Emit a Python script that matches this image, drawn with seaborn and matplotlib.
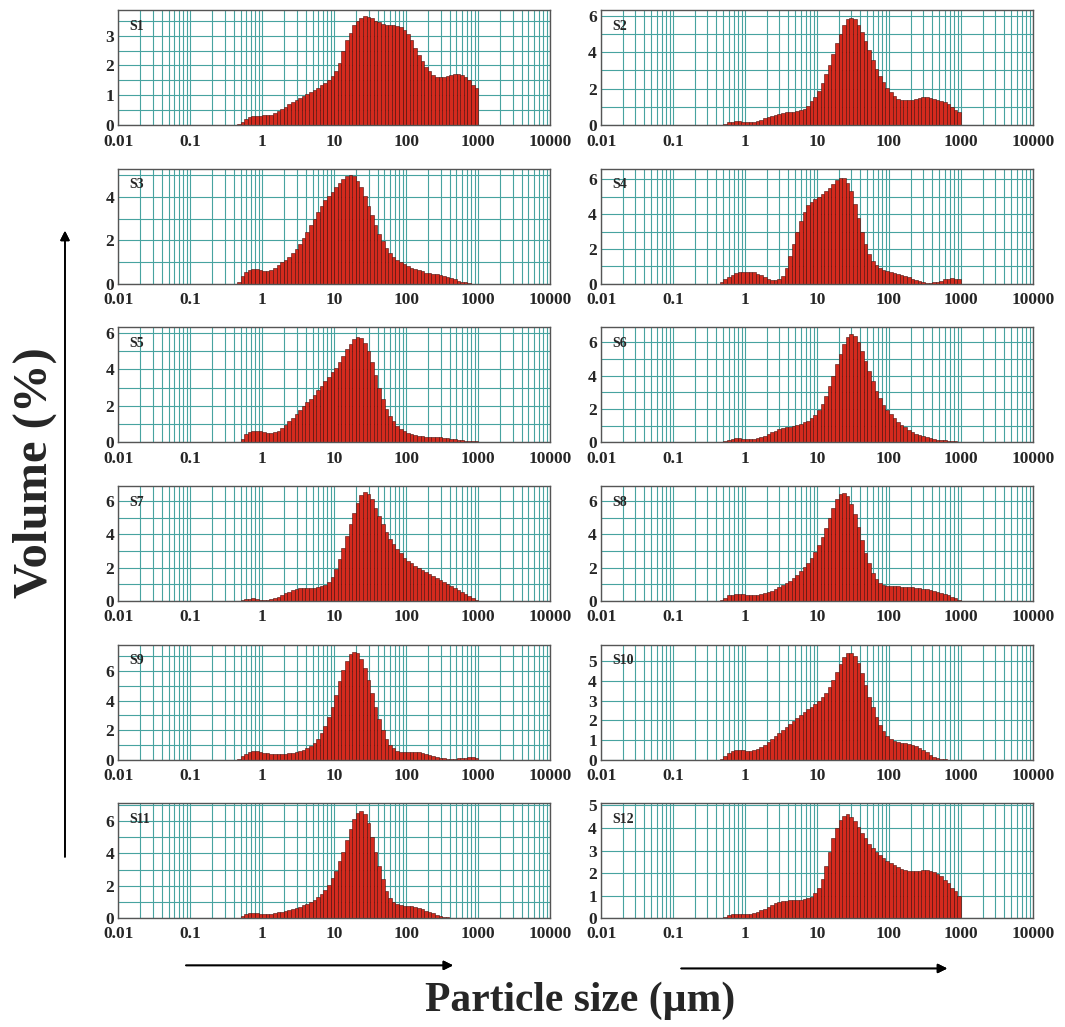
import numpy as np
import pandas as pd
import seaborn as sns
import matplotlib.pyplot as plt
from matplotlib.ticker import MultipleLocator, FixedLocator, NullLocator

# size classes: 20 per decade, from ~0.45 um to 1000 um (log10 edges)
log_edges = np.arange(-0.35, 3.0001, 0.05)
log_centers = (log_edges[:-1] + log_edges[1:]) / 2

# volume (%) read per size class, one list per sample
s1 = [0.03, 0.1, 0.2, 0.27, 0.3, 0.31, 0.32, 0.33, 0.33, 0.35,
      0.4, 0.47, 0.55, 0.62, 0.7, 0.77, 0.83, 0.9, 0.97, 1.03,
      1.1, 1.18, 1.25, 1.33, 1.42, 1.52, 1.65, 1.8, 2.1, 2.5,
      2.85, 3.1, 3.35, 3.5, 3.6, 3.65, 3.63, 3.58, 3.5, 3.45,
      3.4, 3.37, 3.35, 3.35, 3.33, 3.28, 3.2, 3.05, 2.85, 2.6,
      2.35, 2.15, 1.95, 1.8, 1.68, 1.62, 1.6, 1.62, 1.65, 1.68,
      1.7, 1.7, 1.68, 1.6, 1.5, 1.35, 1.25]
s2 = [0.03, 0.08, 0.15, 0.2, 0.23, 0.23, 0.2, 0.17, 0.15, 0.17,
      0.22, 0.3, 0.38, 0.45, 0.52, 0.57, 0.62, 0.66, 0.7, 0.72,
      0.75, 0.78, 0.82, 0.9, 1.05, 1.3, 1.55, 1.85, 2.3, 2.8,
      3.3, 3.9, 4.5, 5.0, 5.5, 5.8, 5.9, 5.8, 5.5, 5.1,
      4.6, 4.1, 3.6, 3.1, 2.7, 2.35, 2.05, 1.8, 1.6, 1.45,
      1.4, 1.38, 1.38, 1.4, 1.45, 1.5, 1.52, 1.52, 1.5, 1.45,
      1.4, 1.35, 1.25, 1.15, 1.0, 0.85, 0.7]
s3 = [0.1, 0.35, 0.55, 0.65, 0.7, 0.68, 0.63, 0.6, 0.6, 0.65,
      0.72, 0.85, 1.0, 1.1, 1.25, 1.4, 1.6, 1.85, 2.1, 2.4,
      2.7, 3.0, 3.3, 3.6, 3.85, 4.05, 4.25, 4.45, 4.65, 4.85,
      4.95, 5.0, 4.95, 4.75, 4.45, 4.05, 3.6, 3.15, 2.7, 2.3,
      1.95, 1.65, 1.4, 1.22, 1.1, 1.0, 0.9, 0.82, 0.75, 0.68,
      0.62, 0.57, 0.52, 0.48, 0.45, 0.43, 0.4, 0.37, 0.32, 0.27,
      0.2, 0.15, 0.1, 0.06, 0.03, 0.01, 0.0]
s4 = [0.1, 0.25, 0.4, 0.5, 0.6, 0.65, 0.68, 0.7, 0.68, 0.65,
      0.58, 0.5, 0.4, 0.3, 0.22, 0.2, 0.25, 0.45, 0.9, 1.6,
      2.3, 3.0, 3.6, 4.1, 4.5, 4.7, 4.85, 5.0, 5.15, 5.3,
      5.5, 5.75, 5.95, 6.1, 6.05, 5.8, 5.3, 4.6, 3.8, 3.0,
      2.3, 1.7, 1.3, 1.05, 0.9, 0.8, 0.72, 0.65, 0.6, 0.55,
      0.5, 0.45, 0.38, 0.3, 0.22, 0.15, 0.1, 0.06, 0.05, 0.08,
      0.12, 0.18, 0.25, 0.3, 0.32, 0.3, 0.25]
s5 = [0.0, 0.2, 0.45, 0.55, 0.6, 0.6, 0.6, 0.55, 0.5, 0.5,
      0.55, 0.65, 0.8, 0.95, 1.15, 1.35, 1.55, 1.75, 2.0, 2.2,
      2.4, 2.6, 2.85, 3.1, 3.35, 3.6, 3.85, 4.1, 4.4, 4.75,
      5.1, 5.4, 5.65, 5.75, 5.7, 5.45, 5.0, 4.4, 3.7, 3.0,
      2.4, 1.85, 1.45, 1.15, 0.9, 0.75, 0.62, 0.52, 0.45, 0.4,
      0.36, 0.34, 0.32, 0.3, 0.3, 0.28, 0.27, 0.25, 0.22, 0.2,
      0.17, 0.15, 0.12, 0.1, 0.1, 0.08, 0.05]
s6 = [0.03, 0.1, 0.17, 0.22, 0.25, 0.25, 0.23, 0.2, 0.2, 0.22,
      0.27, 0.33, 0.4, 0.5, 0.6, 0.7, 0.78, 0.85, 0.9, 0.95,
      1.0, 1.05, 1.1, 1.2, 1.3, 1.45, 1.65, 1.95, 2.3, 2.8,
      3.4, 4.0, 4.7, 5.3, 5.9, 6.35, 6.5, 6.4, 6.0, 5.5,
      4.9, 4.3, 3.7, 3.1, 2.65, 2.25, 1.95, 1.7, 1.45, 1.25,
      1.05, 0.9, 0.75, 0.63, 0.52, 0.43, 0.36, 0.3, 0.25, 0.2,
      0.17, 0.14, 0.12, 0.1, 0.08, 0.06, 0.04]
s7 = [0.0, 0.05, 0.1, 0.14, 0.15, 0.13, 0.08, 0.06, 0.06, 0.1,
      0.17, 0.26, 0.36, 0.46, 0.55, 0.63, 0.7, 0.75, 0.78, 0.8,
      0.8, 0.8, 0.82, 0.87, 0.97, 1.15, 1.45, 1.9, 2.5, 3.2,
      3.9, 4.6, 5.3, 5.9, 6.35, 6.55, 6.45, 6.1, 5.6, 5.1,
      4.6, 4.15, 3.75, 3.4, 3.1, 2.85, 2.6, 2.4, 2.25, 2.1,
      1.97, 1.85, 1.72, 1.6, 1.48, 1.36, 1.25, 1.13, 1.02, 0.9,
      0.78, 0.66, 0.54, 0.42, 0.3, 0.18, 0.08]
s8 = [0.05, 0.2, 0.33, 0.38, 0.4, 0.42, 0.4, 0.37, 0.35, 0.35,
      0.37, 0.4, 0.46, 0.53, 0.62, 0.72, 0.83, 0.95, 1.08, 1.22,
      1.38, 1.58, 1.8, 2.05, 2.3, 2.6, 2.95, 3.35, 3.85, 4.4,
      5.0, 5.6, 6.1, 6.45, 6.5, 6.3, 5.85, 5.2, 4.45, 3.65,
      2.9, 2.25, 1.7, 1.3, 1.07, 0.95, 0.9, 0.88, 0.87, 0.87,
      0.86, 0.85, 0.84, 0.82, 0.8, 0.77, 0.74, 0.7, 0.65, 0.6,
      0.54, 0.47, 0.4, 0.33, 0.25, 0.17, 0.08]
s9 = [0.05, 0.25, 0.4, 0.5, 0.55, 0.55, 0.52, 0.47, 0.42, 0.38,
      0.36, 0.36, 0.38, 0.4, 0.43, 0.46, 0.5, 0.56, 0.64, 0.75,
      0.9, 1.1, 1.4, 1.8, 2.3, 2.9, 3.6, 4.4, 5.3, 6.1,
      6.7, 7.15, 7.3, 7.2, 6.85, 6.2, 5.4, 4.5, 3.6, 2.75,
      2.0, 1.4, 1.0, 0.75, 0.6, 0.52, 0.5, 0.5, 0.5, 0.5,
      0.48, 0.45, 0.4, 0.33, 0.25, 0.18, 0.12, 0.08, 0.06, 0.05,
      0.06, 0.08, 0.1, 0.12, 0.14, 0.14, 0.1]
s10 = [0.03, 0.2, 0.35, 0.45, 0.5, 0.5, 0.47, 0.45, 0.45, 0.47,
       0.52, 0.62, 0.75, 0.9, 1.05, 1.2, 1.35, 1.5, 1.65, 1.8,
       1.95, 2.1, 2.25, 2.4, 2.55, 2.7, 2.85, 3.0, 3.2, 3.4,
       3.7, 4.05, 4.45, 4.85, 5.2, 5.4, 5.4, 5.25, 4.9, 4.4,
       3.8, 3.2, 2.65, 2.15, 1.75, 1.45, 1.2, 1.05, 0.95, 0.88,
       0.85, 0.83, 0.8, 0.76, 0.7, 0.6, 0.48, 0.36, 0.24, 0.14,
       0.07, 0.03, 0.01, 0.0, 0.0, 0.0, 0.0]
s11 = [0.03, 0.15, 0.25, 0.3, 0.3, 0.3, 0.27, 0.25, 0.25, 0.27,
       0.3, 0.35, 0.4, 0.45, 0.5, 0.55, 0.62, 0.7, 0.8, 0.9,
       1.0, 1.15, 1.3, 1.5, 1.75, 2.05, 2.45, 2.9, 3.5, 4.1,
       4.8, 5.5, 6.1, 6.5, 6.6, 6.45, 5.9, 5.0, 4.1, 3.2,
       2.4, 1.7, 1.25, 1.0, 0.85, 0.8, 0.77, 0.75, 0.72, 0.68,
       0.62, 0.55, 0.47, 0.38, 0.3, 0.22, 0.15, 0.09, 0.05, 0.02,
       0.0, 0.0, 0.0, 0.0, 0.0, 0.0, 0.0]
s12 = [0.0, 0.07, 0.15, 0.18, 0.2, 0.2, 0.2, 0.18, 0.2, 0.23,
       0.28, 0.35, 0.42, 0.5, 0.58, 0.65, 0.7, 0.75, 0.78, 0.8,
       0.8, 0.8, 0.8, 0.83, 0.88, 0.95, 1.1, 1.35, 1.75, 2.3,
       2.95, 3.55, 4.0, 4.35, 4.55, 4.6, 4.5, 4.3, 4.05, 3.8,
       3.55, 3.3, 3.1, 2.95, 2.8, 2.67, 2.55, 2.45, 2.35, 2.25,
       2.18, 2.12, 2.1, 2.1, 2.1, 2.1, 2.12, 2.12, 2.1, 2.05,
       1.95, 1.85, 1.7, 1.55, 1.35, 1.2, 1.0]

samples = [s1, s2, s3, s4, s5, s6, s7, s8, s9, s10, s11, s12]
names = ["S1", "S2", "S3", "S4", "S5", "S6", "S7", "S8", "S9", "S10", "S11", "S12"]
ymax = [3.85, 6.3, 5.3, 6.6, 6.3, 6.9, 6.9, 6.9, 7.8, 5.85, 7.1, 5.1]
ytick_step = [1, 2, 2, 2, 2, 2, 2, 2, 2, 1, 2, 1]
ygrid_step = [0.5, 1, 1, 1, 1, 1, 1, 1, 1, 1, 1, 1]
xtick_vals = [0.01, 0.1, 1, 10, 100, 1000, 10000]
xtick_labels = ["0.01", "0.1", "1", "10", "100", "1000", "10000"]

grid_col = "#47a3a0"
bar_col = "#d42a1e"

sns.set_theme(style="white")
plt.rcParams['font.family'] = ['Liberation Serif', 'DejaVu Serif']
plt.rcParams['font.weight'] = 'bold'
plt.rcParams['axes.grid'] = False
plt.rcParams['grid.color'] = grid_col

# vertical grid positions: 1..9 x each decade
xgrid = [m * 10.0 ** e for e in range(-2, 4) for m in range(1, 10)] + [10000]

fig, axes = plt.subplots(6, 2, figsize=(10.65, 10.27), dpi=100)
fig.subplots_adjust(left=0.111, right=0.970, top=0.990, bottom=0.106,
                    hspace=0.38, wspace=0.118)

for k, ax in enumerate(axes.flat):
    df = pd.DataFrame({"size": 10 ** log_centers, "vol": samples[k]})
    sns.histplot(data=df, x="size", weights="vol", bins=list(log_edges), log_scale=True,
                 stat="count", color=bar_col, edgecolor="#4a0d08", linewidth=0.4,
                 alpha=1, ax=ax, zorder=3)
    for xv in xgrid:
        ax.axvline(xv, color=grid_col, linewidth=0.8, zorder=1)
    for yv in np.arange(0, ymax[k], ygrid_step[k]):
        ax.axhline(yv, color=grid_col, linewidth=0.8, zorder=1)
    ax.set_xlim(0.01, 10000)
    ax.set_ylim(0, ymax[k])
    ax.xaxis.set_major_locator(FixedLocator(xtick_vals))
    ax.set_xticklabels(xtick_labels)
    ax.xaxis.set_minor_locator(NullLocator())
    ax.yaxis.set_major_locator(MultipleLocator(ytick_step[k]))
    ax.tick_params(which="both", length=0, labelsize=12.5)
    ax.tick_params(axis="x", pad=6)
    ax.tick_params(axis="y", pad=3)
    ax.grid(False)
    for lab in ax.get_xticklabels() + ax.get_yticklabels():
        lab.set_fontweight("bold")
    for sp in ax.spines.values():
        sp.set_color("#555555")
        sp.set_linewidth(1.0)
        sp.set_zorder(4)
    ax.set_xlabel("")
    ax.set_ylabel("")
    ax.text(0.025, 0.86, names[k], transform=ax.transAxes, fontsize=10,
            fontweight="bold", va="center", ha="left", zorder=5)

fig.text(0.033, 0.54, "Volume (%)", rotation=90, fontsize=35, fontweight="bold",
         ha="center", va="center")
fig.text(0.545, 0.026, "Particle size (µm)", fontsize=30, fontweight="bold",
         ha="center", va="center")

arrow = dict(arrowstyle="-|>", color="black", lw=1.2, mutation_scale=14)
fig.add_artist(plt.annotate("", xy=(0.061, 0.778), xytext=(0.061, 0.163),
                            xycoords="figure fraction", arrowprops=arrow))
fig.add_artist(plt.annotate("", xy=(0.428, 0.060), xytext=(0.172, 0.060),
                            xycoords="figure fraction", arrowprops=arrow))
fig.add_artist(plt.annotate("", xy=(0.892, 0.057), xytext=(0.637, 0.057),
                            xycoords="figure fraction", arrowprops=arrow))

plt.savefig("out.png", dpi=100)
